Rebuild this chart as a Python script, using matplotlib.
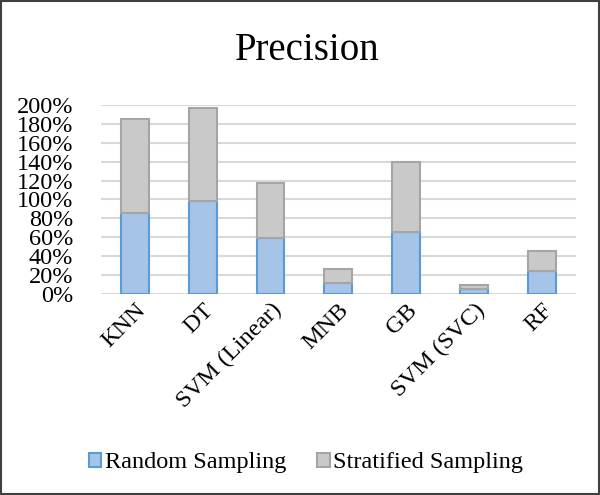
import matplotlib
matplotlib.use('Agg')
import matplotlib.pyplot as plt
from matplotlib.ticker import PercentFormatter

models     = ['KNN', 'DT', 'SVM (Linear)', 'MNB', 'GB', 'SVM (SVC)', 'RF']
random_s   = [0.86, 0.98, 0.59, 0.12, 0.66, 0.05, 0.24]
stratified = [0.99, 0.99, 0.58, 0.15, 0.74, 0.05, 0.22]
yticks     = [0.0, 0.2, 0.4, 0.6, 0.8, 1.0, 1.2, 1.4, 1.6, 1.8, 2.0]

plt.rcParams['font.family'] = ['Liberation Serif', 'DejaVu Serif']

fig = plt.figure(figsize = (6, 4.95), dpi = 100)
ax  = fig.add_axes([0.168, 0.406, 0.792, 0.382])

x = range(len(models))
ax.bar(x, random_s, width = 0.41, color = '#a6c3e8', edgecolor = '#5b9bd5', linewidth = 1.5,
       label = 'Random Sampling', zorder = 3)
ax.bar(x, stratified, bottom = random_s, width = 0.41, color = '#c9c9c9', edgecolor = '#a5a5a5',
       linewidth = 1.5, label = 'Stratified Sampling', zorder = 3)

ax.set_ylim(0, 2.0)
ax.set_xlim(-0.5, len(models) - 0.5)
ax.set_yticks(yticks)
ax.yaxis.set_major_formatter(PercentFormatter(1.0, decimals = 0))
ax.grid(axis = 'y', color = '#d9d9d9', linewidth = 1.5, zorder = 0)
for s in ax.spines.values():
    s.set_visible(False)
ax.tick_params(length = 0, labelsize = 17.5)
ax.tick_params(axis = 'y', pad = 20)
ax.tick_params(axis = 'x', pad = 4)
ax.set_xticks(list(x))
ax.set_xticklabels(models, rotation = 45, ha = 'right', rotation_mode = 'anchor')

fig.suptitle('Precision', fontsize = 28, x = 0.512, y = 0.935)

fig.legend(loc = 'center', bbox_to_anchor = (0.51, 0.065), ncol = 2, frameon = False,
           fontsize = 17.5, handlelength = 0.5, handleheight = 0.5, handletextpad = 0.15,
           columnspacing = 1.3)

fig.patches.append(plt.Rectangle((0.002, 0.002), 0.996, 0.996, transform = fig.transFigure,
                                 fill = False, edgecolor = '#404040', linewidth = 1.5))

fig.savefig('out.png', dpi = 100)
